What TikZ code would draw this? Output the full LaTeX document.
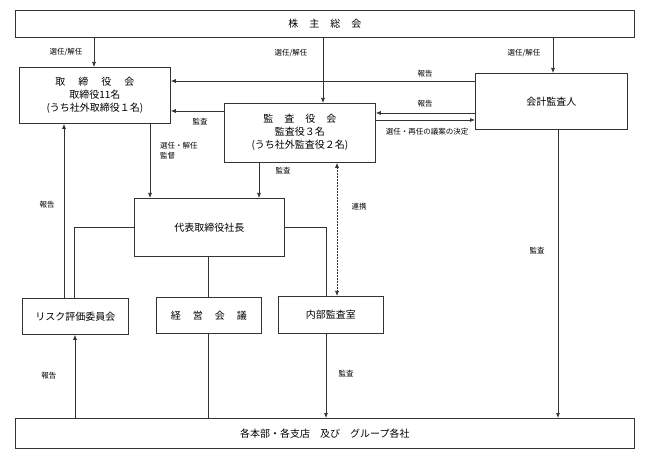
\documentclass[tikz,border=0pt]{standalone}
\usepackage{fontspec}
\setmainfont{Noto Sans CJK JP}
\usetikzlibrary{arrows.meta}
\begin{document}
\begin{tikzpicture}[x=1pt,y=-1pt,
 box/.style={draw=black!80,line width=0.8pt,anchor=north west,inner sep=0pt,align=center,font=\fontsize{10}{13}\selectfont},
 conn/.style={draw=black!80,line width=0.7pt},
 arr/.style={conn,-{Latex[length=5pt,width=4pt]}},
 lbl/.style={font=\fontsize{7.5}{10}\selectfont,inner sep=0pt,align=left}]
\useasboundingbox[fill=white] (0,0) rectangle (648,462);
% boxes
\node[box,minimum width=619pt,minimum height=27pt] (sh) at (15,10) {株\hspace{11pt}主\hspace{11pt}総\hspace{11pt}会};
\node[box,minimum width=151pt,minimum height=56pt] (bod) at (19,67) {取\hspace{13pt}締\hspace{13pt}役\hspace{13pt}会\\取締役11名\\(うち社外取締役１名)};
\node[box,minimum width=151pt,minimum height=59pt,text depth=3pt] (kansa) at (224,103) {監\hspace{11pt}査\hspace{11pt}役\hspace{11pt}会\\監査役３名\\(うち社外監査役２名)};
\node[box,minimum width=152pt,minimum height=56pt] (kaikei) at (475,73) {会計監査人};
\node[box,minimum width=150pt,minimum height=58pt] (ceo) at (134,198) {代表取締役社長};
\node[box,minimum width=106pt,minimum height=36pt] (risk) at (22,298) {リスク評価委員会};
\node[box,minimum width=105pt,minimum height=36pt] (keiei) at (156,297) {経\hspace{12pt}営\hspace{12pt}会\hspace{12pt}議};
\node[box,minimum width=105pt,minimum height=37pt] (naibu) at (278,296) {内部監査室};
\node[box,minimum width=619pt,minimum height=30pt] (bot) at (15,418) {各本部・各支店　及び　グループ各社};
% helper coordinates
\coordinate (x94) at (94,0);
\coordinate (x323) at (323,0);
\coordinate (x553) at (553,0);
\coordinate (x150) at (150,0);
\coordinate (x259) at (259,0);
\coordinate (x337) at (337,0);
\coordinate (x74) at (74,0);
\coordinate (x326) at (326,0);
\coordinate (x208) at (208,0);
\coordinate (x64) at (64,0);
\coordinate (x75) at (75,0);
\coordinate (x558) at (558,0);
\coordinate (y81) at (0,81);
\coordinate (y111) at (0,111);
\coordinate (y113) at (0,113);
\coordinate (y120) at (0,120);
\coordinate (y227) at (0,227);
% connectors
\draw[arr] (sh.south -| x94) -- (bod.north -| x94);
\draw[arr] (sh.south -| x323) -- (kansa.north -| x323);
\draw[arr] (sh.south -| x553) -- (kaikei.north -| x553);
\draw[arr] (kaikei.west |- y81) -- (bod.east |- y81);
\draw[arr] (kansa.west |- y111) -- (bod.east |- y111);
\draw[arr] (kaikei.west |- y113) -- (kansa.east |- y113);
\draw[arr] (kansa.east |- y120) -- (kaikei.west |- y120);
\draw[arr] (bod.south -| x150) -- (ceo.north -| x150);
\draw[arr] (kansa.south -| x259) -- (ceo.north -| x259);
\draw[conn,dash pattern=on 2pt off 1pt,{Latex[length=5pt,width=4pt]}-{Latex[length=5pt,width=4pt]}] (kansa.south -| x337) -- (naibu.north -| x337);
\draw[conn] (ceo.west |- y227) -| (risk.north -| x74);
\draw[conn] (ceo.east |- y227) -| (naibu.north -| x326);
\draw[conn] (ceo.south -| x208) -- (keiei.north -| x208);
\draw[conn] (keiei.south -| x208) -- (bot.north -| x208);
\draw[arr] (risk.north -| x64) -- (bod.south -| x64);
\draw[arr] (bot.north -| x75) -- (risk.south -| x75);
\draw[arr] (naibu.south -| x326) -- (bot.north -| x326);
\draw[arr] (kaikei.south -| x558) -- (bot.north -| x558);
% labels
\node[lbl] (l1) at (66,52) {選任/解任};
\node[lbl] (l2) at (291,53) {選任/解任};
\node[lbl] (l3) at (524,53) {選任/解任};
\node[lbl] (l4) at (425,74) {報告};
\node[lbl] (l5) at (425,104) {報告};
\node[lbl] (l6) at (427,132) {選任・再任の議案の決定};
\node[lbl] (l7) at (200,122) {監査};
\node[lbl,anchor=west] (l8) at (160,151) {選任・解任\\監督};
\node[lbl] (l9) at (283,171) {監査};
\node[lbl] (l10) at (359,207) {連携};
\node[lbl] (l11) at (47,205) {報告};
\node[lbl] (l12) at (49,376) {報告};
\node[lbl] (l13) at (346,374) {監査};
\node[lbl] (l14) at (537,251) {監査};
\end{tikzpicture}
\end{document}
